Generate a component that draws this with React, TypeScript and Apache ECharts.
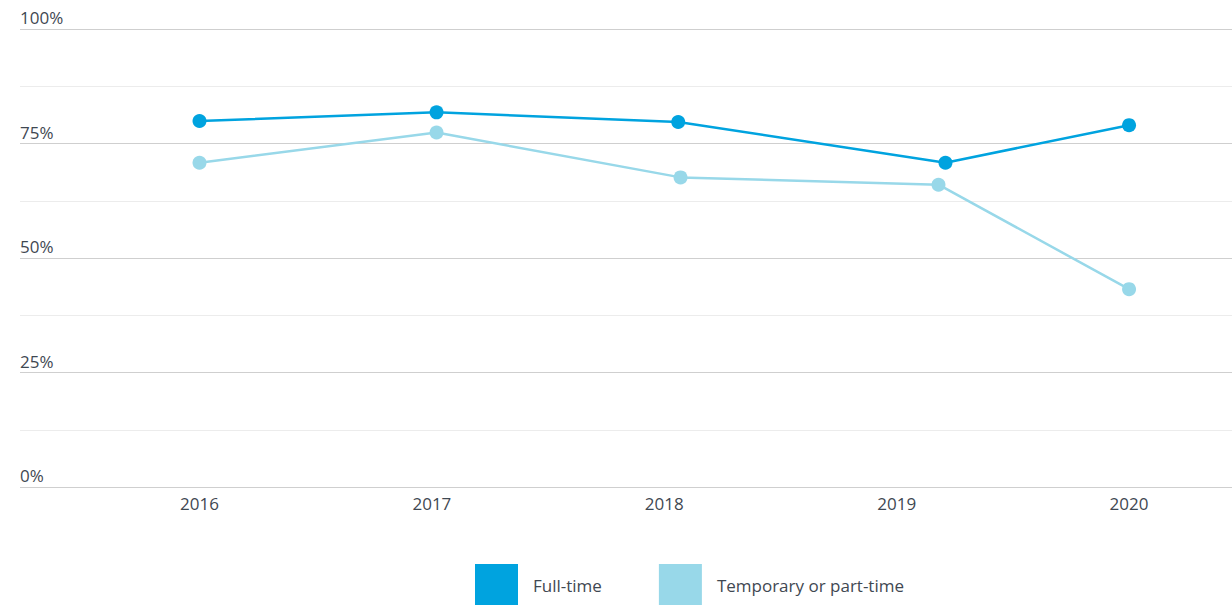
import React, { useEffect, useRef } from "react";
import * as echarts from "echarts";

const yearTicks = [2016, 2017, 2018, 2019, 2020];
const fullTimeX = [2016, 2017.02, 2018.06, 2019.21, 2020];
const fullTimeY = [79.9, 81.8, 79.7, 70.8, 79.0];
const tempX = [2016, 2017.02, 2018.07, 2019.18, 2020];
const tempY = [70.8, 77.4, 67.6, 66.0, 43.2];
const seriesNames = ["Full-time", "Temporary or part-time"];

const FONT = "'Open Sans', 'Noto Sans', sans-serif";
const TEXT = "#3f4852";

export default function App() {
  const ref = useRef<HTMLDivElement>(null);
  useEffect(() => {
    document.body.style.margin = "0";
    const chart = echarts.init(ref.current!, null, { renderer: "svg" });
    chart.setOption({
      animation: false,
      grid: { left: 20, right: 0, top: 29, bottom: 118, containLabel: false },
      xAxis: {
        type: "value",
        min: 2015.2276,
        max: 2020.443,
        axisLine: { show: false },
        axisTick: { show: false },
        splitLine: { show: false },
        axisLabel: {
          customValues: yearTicks,
          formatter: (v: number) => String(Math.round(v)),
          color: TEXT,
          fontFamily: FONT,
          fontSize: 17,
          margin: 8,
        },
      },
      yAxis: {
        type: "value",
        min: 0,
        max: 100,
        interval: 12.5,
        axisLine: { show: false },
        axisTick: { show: false },
        splitLine: { lineStyle: { color: ["#cfcfcf", "#ececec"], width: 1 } },
        axisLabel: {
          inside: true,
          margin: 0,
          align: "left",
          verticalAlign: "bottom",
          padding: [0, 0, 3, 0],
          color: TEXT,
          fontFamily: FONT,
          fontSize: 17,
          formatter: (v: number) => (v % 25 === 0 ? v + "%" : ""),
        },
      },
      legend: {
        left: 475,
        top: 564,
        padding: 0,
        icon: "rect",
        itemWidth: 43,
        itemHeight: 42,
        itemGap: 57,
        textStyle: { color: TEXT, fontFamily: FONT, fontSize: 17, padding: [0, 0, 0, 10] },
        data: seriesNames,
      },
      series: [
        {
          name: seriesNames[0],
          type: "line",
          data: fullTimeX.map((x, i) => [x, fullTimeY[i]]),
          symbol: "circle",
          symbolSize: 14,
          lineStyle: { width: 2.5, color: "#00a3df" },
          itemStyle: { color: "#00a3df" },
          z: 3,
        },
        {
          name: seriesNames[1],
          type: "line",
          data: tempX.map((x, i) => [x, tempY[i]]),
          symbol: "circle",
          symbolSize: 14,
          lineStyle: { width: 2.5, color: "#98d8e9" },
          itemStyle: { color: "#98d8e9" },
          z: 2,
        },
      ],
    });
    return () => chart.dispose();
  }, []);
  return <div ref={ref} style={{ width: 1232, height: 605 }} />;
}
